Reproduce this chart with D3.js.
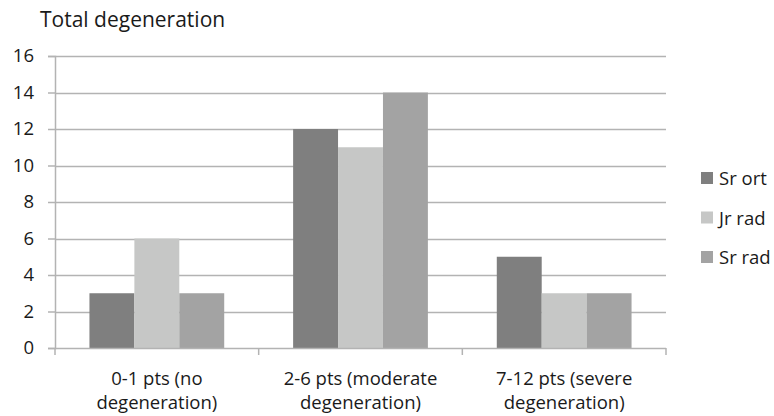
<!DOCTYPE html>
<html>
<head>
<meta charset="utf-8">
<script src="https://cdn.jsdelivr.net/npm/d3@7"></script>
<style>
  html, body { margin: 0; padding: 0; background: #fff; }
  svg { display: block; font-family: "Open Sans", "Liberation Sans", sans-serif; }
</style>
</head>
<body>
<svg id="chart" width="774" height="416"></svg>
<script>
// Scores per degeneration class, one array per group
const categories = ["0-1 pts (no degeneration)", "2-6 pts (moderate degeneration)", "7-12 pts (severe degeneration)"];
const categoryLines = [["0-1 pts (no", "degeneration)"], ["2-6 pts (moderate", "degeneration)"], ["7-12 pts (severe", "degeneration)"]];
const seriesNames = ["Sr ort", "Jr rad", "Sr rad"];
const srOrt = [3, 12, 5];
const jrRad = [6, 11, 3];
const srRad = [3, 14, 3];
const yTicks = [0, 2, 4, 6, 8, 10, 12, 14, 16];
const title = "Total degeneration";

const seriesValues = [srOrt, jrRad, srRad];
const colors = ["#7f7f7f", "#c6c7c6", "#a3a3a3"];

const svg = d3.select("#chart");
const margin = { left: 55, right: 108, top: 56, bottom: 68 };
const width = 774, height = 416;
const x0 = margin.left, x1 = width - margin.right;
const yTop = margin.top, yBottom = height - margin.bottom;

const x = d3.scaleBand().domain(categories).range([x0, x1]).paddingInner(0).paddingOuter(0);
const xInner = d3.scaleBand().domain(seriesNames).range([0, x.bandwidth()]).paddingOuter(0.767).paddingInner(0);
const y = d3.scaleLinear().domain([0, 16]).range([yBottom, yTop]);

const gridColor = "#b3b3b3";
const textColor = "#1a1a1a";

// horizontal gridlines
svg.append("g")
  .selectAll("line")
  .data(yTicks.filter(t => t > 0))
  .join("line")
  .attr("x1", x0).attr("x2", x1)
  .attr("y1", d => Math.round(y(d)) + 0.5).attr("y2", d => Math.round(y(d)) + 0.5)
  .attr("stroke", gridColor).attr("stroke-width", 1.5);

// bars
const groups = svg.append("g")
  .selectAll("g")
  .data(categories)
  .join("g")
  .attr("transform", d => `translate(${x(d)},0)`);

groups.selectAll("rect")
  .data((c, i) => seriesNames.map((s, k) => ({ s, v: seriesValues[k][i], k })))
  .join("rect")
  .attr("x", d => xInner(d.s))
  .attr("width", xInner.bandwidth())
  .attr("y", d => y(d.v))
  .attr("height", d => y(0) - y(d.v))
  .attr("fill", d => colors[d.k]);

// y axis
const yAxis = svg.append("g")
  .attr("transform", `translate(${x0},0)`)
  .call(d3.axisLeft(y).tickValues(yTicks).tickSize(7).tickPadding(14).tickFormat(d3.format("d")));
yAxis.select(".domain").attr("stroke", gridColor).attr("stroke-width", 1.5);
yAxis.selectAll(".tick line").attr("stroke", gridColor).attr("stroke-width", 1.5);
yAxis.selectAll(".tick text").attr("font-size", 18.5).attr("fill", textColor)
  .attr("font-family", "'Open Sans', sans-serif");

// x axis
const xAxis = svg.append("g")
  .attr("transform", `translate(0,${yBottom})`);
xAxis.append("line")
  .attr("x1", x0).attr("x2", x1).attr("y1", 0.5).attr("y2", 0.5)
  .attr("stroke", gridColor).attr("stroke-width", 1.5);
const boundaries = categories.map(c => x(c)).concat([x1]);
xAxis.selectAll("line.tk")
  .data(boundaries)
  .join("line")
  .attr("class", "tk")
  .attr("x1", d => d).attr("x2", d => d)
  .attr("y1", 0).attr("y2", 7)
  .attr("stroke", gridColor).attr("stroke-width", 1.5);

// two-line category labels, one text element per line
const catLabels = xAxis.selectAll("g.cat")
  .data(categories)
  .join("g")
  .attr("class", "cat")
  .attr("transform", d => `translate(${x(d) + x.bandwidth() / 2},0)`);
catLabels.selectAll("text")
  .data((d, i) => categoryLines[i])
  .join("text")
  .attr("x", 0)
  .attr("y", (d, i) => 37 + i * 24)
  .attr("text-anchor", "middle")
  .attr("font-size", 18.5)
  .attr("fill", textColor)
  .text(d => d);

// title
svg.append("text")
  .attr("x", 40).attr("y", 27)
  .attr("font-size", 21)
  .attr("fill", textColor)
  .text(title);

// legend
const legend = svg.append("g")
  .selectAll("g")
  .data(seriesNames)
  .join("g")
  .attr("transform", (d, i) => `translate(701,${178 + i * 39.5})`);
legend.append("rect")
  .attr("x", 0).attr("y", -6).attr("width", 12).attr("height", 12)
  .attr("fill", (d, i) => colors[i]);
legend.append("text")
  .attr("x", 18).attr("y", 7)
  .attr("font-size", 18.5)
  .attr("fill", textColor)
  .text(d => d);
</script>
</body>
</html>
